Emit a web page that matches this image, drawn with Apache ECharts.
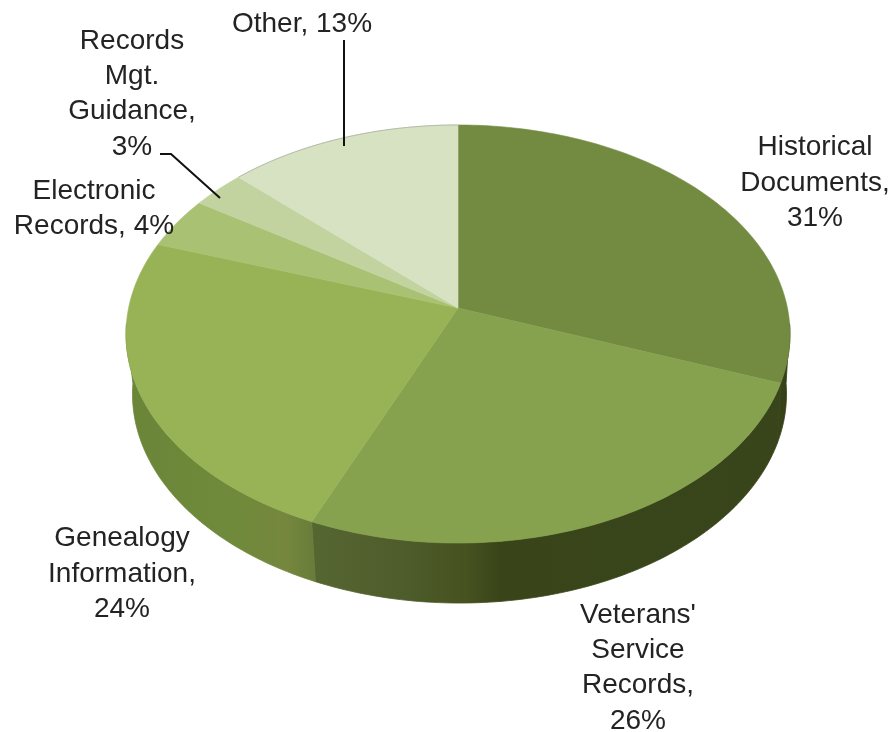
<!DOCTYPE html>
<html>
<head>
<meta charset="utf-8">
<style>html,body{margin:0;padding:0;background:#fff}#chart{width:893px;height:732px}</style>
<script src="https://cdn.jsdelivr.net/npm/echarts@6/dist/echarts.min.js"></script>
</head>
<body>
<div id="chart"></div>
<script>
// Share of requests by category, clockwise from twelve o'clock
const categories = ['Historical\nDocuments,', "Veterans'\nService\nRecords,", 'Genealogy\nInformation,', 'Electronic\nRecords,', 'Records\nMgt.\nGuidance,', 'Other,'];
const shares = [31, 26, 24, 4, 3, 13];

// Face colours of each slice
const faceColors = ['#728b41', '#87a24f', '#98b356', '#a9c172', '#c2d3a0', '#d7e2c2'];
// Side shading of the slices that reach the front, left to right: [offset, colour]
const sideStops = [
  [[0, '#38441a'], [1, '#333e16']],
  [[0, '#566631'], [0.2, '#4e5c2b'], [0.33, '#46521f'], [0.4, '#394519'], [1, '#38441a']],
  [[0, '#6b8538'], [0.5, '#6e8a3a'], [0.85, '#75873d'], [1, '#687c3a']]
];

// Perspective disc: apex position, radii, foreshortening, extrusion depth
const apexX = 458, apexY = 308, radiusX = 329.4, radiusY = 205.8, tilt = 0.1244;
const depth = 60, baseShrink = 0.985, baseShift = 1.5;

// Label layout: centre x and centre y of the block
const labelCentres = [[815, 183], [638, 668], [122, 574], [94, 209], [132, 94], [302, 24]];
// Leader lines for the two small-label slices (slice index -> polyline)
const leaders = { 4: [[160, 154], [171, 154], [220, 198]], 5: [[344, 40], [344, 146]] };

const total = shares.reduce((a, b) => a + b, 0);
const starts = [];
shares.reduce((acc, v, i) => { starts[i] = acc; return acc + v; }, 0);

function rimPoint(turn, shrink, shift, drop) {
  const t = turn * 2 * Math.PI;
  const u = Math.sin(t), v = Math.cos(t), w = 1 + tilt * v;
  return [apexX + shift + shrink * radiusX * u / w, apexY + drop - radiusY * v / w];
}
function arc(from, to, shrink, shift, drop) {
  const n = Math.max(2, Math.ceil((to - from) * 360));
  const pts = [];
  for (let i = 0; i <= n; i++) pts.push(rimPoint(from + (to - from) * i / n, shrink, shift, drop));
  return pts;
}
// Rim range that faces the viewer, slightly past the silhouette on both sides
const frontFrom = 0.262, frontTo = 0.738;

function renderWall(params) {
  const i = params.dataIndex;
  const from = Math.max(starts[i] / total, frontFrom);
  const to = Math.min((starts[i] + shares[i]) / total, frontTo);
  if (to <= from || !sideStops[i]) return { type: 'group', children: [] };
  const upper = arc(from, to, 1, 0, 0);
  const lower = arc(from, to, baseShrink, baseShift, depth);
  const pts = upper.concat(lower.reverse());
  const xs = pts.map(p => p[0]);
  const shade = {
    type: 'linear', global: true,
    x: Math.min.apply(null, xs), y: 0, x2: Math.max.apply(null, xs), y2: 0,
    colorStops: sideStops[i].map(s => ({ offset: s[0], color: s[1] }))
  };
  return {
    type: 'polygon',
    shape: { points: pts },
    // A hairline in the same shade closes the seam between neighbouring walls
    style: { fill: shade, stroke: shade, lineWidth: 0.8 }
  };
}

function renderFace(params) {
  const i = params.dataIndex;
  const from = starts[i] / total, to = (starts[i] + shares[i]) / total;
  const rim = arc(from, to, 1, 0, 0);
  const children = [{
    type: 'polygon',
    shape: { points: [[apexX, apexY]].concat(rim) },
    style: { fill: faceColors[i], stroke: faceColors[i], lineWidth: 0.6 }
  }];
  if (i === shares.length - 1) {
    children.push({
      type: 'polyline',
      shape: { points: rim },
      style: { fill: null, stroke: '#b4baa8', lineWidth: 1 }
    });
  }
  return { type: 'group', children };
}

function renderLabel(params) {
  const i = params.dataIndex;
  const children = [{
    type: 'text',
    style: {
      x: labelCentres[i][0], y: labelCentres[i][1],
      text: categories[i] + (i === 3 || i === 5 ? ' ' : '\n') + shares[i] + '%',
      fill: '#232323',
      font: '28px "Liberation Sans"',
      lineHeight: 35.3,
      align: 'center',
      verticalAlign: 'middle'
    }
  }];
  if (leaders[i]) {
    children.push({
      type: 'polyline',
      shape: { points: leaders[i] },
      style: { fill: null, stroke: '#111', lineWidth: 2 }
    });
  }
  return { type: 'group', children };
}

const rows = shares.map(v => [v]);
const chart = echarts.init(document.getElementById('chart'), null, { renderer: 'canvas' });
chart.setOption({
  animation: false,
  backgroundColor: '#fff',
  series: [
    { type: 'custom', coordinateSystem: 'none', silent: true, z: 1, data: rows, renderItem: renderWall },
    { type: 'custom', coordinateSystem: 'none', silent: true, z: 2, data: rows, renderItem: renderFace },
    { type: 'custom', coordinateSystem: 'none', silent: true, z: 3, data: rows, renderItem: renderLabel }
  ]
});
</script>
</body>
</html>
